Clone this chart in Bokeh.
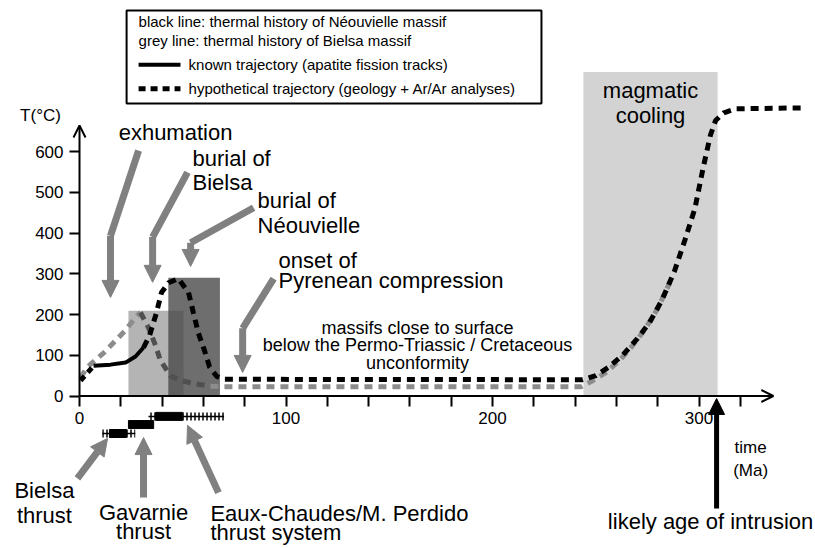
from bokeh.plotting import figure
from bokeh.models import Range1d, LinearAxis, FixedTicker, Arrow, NormalHead, OpenHead
from bokeh.core.properties import value
from bokeh.embed import file_html
from bokeh.resources import INLINE

# ---------------- data ----------------
time_ticks = list(range(0, 340, 20))
time_tick_labels = {0: "0", 100: "100", 200: "200", 300: "300"}
temp_ticks = [0, 100, 200, 300, 400, 500, 600]

# Neouvielle (black)
neo_start_t = [0.5, 6.8]
neo_start_T = [38, 74]
neo_known_t = [6.8, 15, 22.3, 27.1, 31]
neo_known_T = [74, 77, 82, 97, 119]
neo_hyp_t = [31, 33.9, 37.3, 39.7, 43.1, 47.9, 52.8, 55.2, 57.6, 60.5, 63, 66.5, 70,
             243.6, 250, 256, 263, 270, 276, 282, 288, 293, 298, 302, 305.5, 308, 312, 318, 350]
neo_hyp_T = [119, 148, 205, 254, 278, 288, 254, 203, 154, 112, 71, 48, 41,
             40, 50, 70, 100, 140, 180, 235, 305, 380, 460, 560, 640, 676, 695, 705, 707]

# Bielsa (grey)
bie_rise_t = [0.5, 4, 12, 22, 27, 29.5]
bie_rise_T = [45, 72, 107, 160, 192, 205]
bie_fall_t = [29.5, 33.4, 36.8, 39.2, 44, 49, 55.2, 63.4]
bie_fall_T = [205, 168, 124, 87, 50, 38, 31, 24]
bie_flat_t = [63.4, 69.2, 243, 248, 255, 262, 268, 274, 280, 286]
bie_flat_T = [24, 23, 23, 36, 58, 90, 125, 165, 215, 280]

# shaded periods
burial_bielsa = (23.7, 50.4, 209)
burial_neo = (43.0, 68.0, 290)
magmatic = (244.0, 309.0, 795)

# thrust activity (solid = active, hashed = uncertain)
bielsa_solid = (14.5, 22.8); bielsa_hash = [(11, 14.5), (22.8, 27)]
gavarnie_solid = (23.7, 35.9); gavarnie_hash = []
eaux_solid = (36.8, 50); eaux_hash = [(33.4, 36.8), (50, 70)]

FONT = value("Liberation Sans")
GREY = "#808080"

p = figure(width=815, height=548, output_backend="svg", toolbar_location=None,
           x_range=Range1d(-38.26, 356.4), y_range=Range1d(-374.2, 970.6),
           x_axis_location=None, y_axis_location=None, min_border=0)
p.outline_line_color = None
p.grid.visible = False

# axes through origin
xax = LinearAxis(fixed_location=0, ticker=FixedTicker(ticks=time_ticks),
                 major_label_overrides={t: time_tick_labels.get(t, "") for t in time_ticks})
yax = LinearAxis(fixed_location=0, ticker=FixedTicker(ticks=temp_ticks))
for ax in (xax, yax):
    ax.axis_line_color = None
    ax.major_tick_line_width = 2
    ax.major_tick_in = 0
    ax.major_tick_out = 10
    ax.minor_tick_line_color = None
    ax.major_label_text_font = "Liberation Sans"
    ax.major_label_text_font_size = "17px"
    ax.major_label_text_color = "black"
    ax.major_label_standoff = 6
p.add_layout(xax, "below")
p.add_layout(yax, "left")
p.add_layout(Arrow(x_start=0, y_start=0, x_end=336, y_end=0, line_width=2,
                   end=OpenHead(size=12, line_width=2)))
p.add_layout(Arrow(x_start=0, y_start=0, x_end=0, y_end=664, line_width=2,
                   end=OpenHead(size=12, line_width=2)))

# shaded boxes
p.quad(left=[magmatic[0]], right=[magmatic[1]], bottom=[0], top=[magmatic[2]],
       fill_color="#d3d3d3", line_color=None)
p.quad(left=[burial_bielsa[0]], right=[burial_bielsa[1]], bottom=[0], top=[burial_bielsa[2]],
       fill_color="#b4b4b4", line_color=None)
p.quad(left=[burial_neo[0]], right=[burial_neo[1]], bottom=[0], top=[burial_neo[2]],
       fill_color="#4a4a4a", fill_alpha=0.8, line_color=None)

# curves
p.line(bie_rise_t, bie_rise_T, line_color="#8c8c8c", line_width=5, line_dash="8 6")
p.line(bie_fall_t, bie_fall_T, line_color="#505050", line_width=5, line_dash="8 6")
p.line(bie_flat_t, bie_flat_T, line_color="#8c8c8c", line_width=5, line_dash="8 6")
p.line(neo_start_t, neo_start_T, line_color="black", line_width=5, line_dash="6 5")
p.line(neo_known_t, neo_known_T, line_color="black", line_width=4)
p.line(neo_hyp_t, neo_hyp_T, line_color="black", line_width=5, line_dash="8 6")

# thrust bars
def thrust(solid, hashes, y):
    p.rect(x=[(solid[0] + solid[1]) / 2], y=[y], width=[solid[1] - solid[0]], height=8,
           height_units="screen", fill_color="black", line_color="black")
    for a, b in hashes:
        p.rect(x=[(a + b) / 2], y=[y], width=[b - a], height=8, height_units="screen",
               fill_alpha=0, line_color=None, hatch_pattern="|", hatch_color="black",
               hatch_scale=4, hatch_weight=1.5)
        p.line([a, b], [y, y], line_color="black", line_width=1.5)

thrust(bielsa_solid, bielsa_hash, -92)
thrust(gavarnie_solid, gavarnie_hash, -70)
thrust(eaux_solid, eaux_hash, -50)

# annotation arrows
def garrow(xs, ys, color=GREY, w=7, size=17):
    if len(xs) > 2:
        p.line(xs[:-1], ys[:-1], line_color=color, line_width=w, line_join="miter")
    p.add_layout(Arrow(x_start=xs[-2], y_start=ys[-2], x_end=xs[-1], y_end=ys[-1],
                       line_color=color, line_width=w,
                       end=NormalHead(size=size, fill_color=color, line_color=color)))

garrow([28.6, 15.0, 15.0], [602, 393, 242])
garrow([52.3, 35.4, 35.4], [549, 390, 279])
garrow([84.3, 53.8, 53.8], [462, 376, 318])
garrow([94.0, 79.0, 79.0], [288, 166, 58])
garrow([-1.0, 13.6], [-202, -104])
garrow([31.0, 31.0], [-249, -102])
garrow([67.3, 52.3], [-237, -72])
garrow([308.5, 308.5], [-276, -6], color="black", w=5, size=16)

def txt(x, y, s, size="22px", align="left"):
    p.text(x=[x], y=[y], text=[s], text_font=FONT, text_font_size=size,
           text_align=align, text_baseline="middle", text_color="black")

txt(46.5, 647, "exhumation", align="center")
txt(54.7, 583, "burial of"); txt(54.7, 524, "Bielsa")
txt(86.2, 481, "burial of"); txt(86.2, 418, "Néouvielle")
txt(96.4, 332, "onset of"); txt(96.4, 283, "Pyrenean compression")
txt(163.7, 168, "massifs close to surface", size="18px", align="center")
txt(163.7, 124, "below the Permo-Triassic / Cretaceous", size="18px", align="center")
txt(163.7, 80, "unconformity", size="18px", align="center")
txt(276.5, 750, "magmatic", align="center"); txt(276.5, 688, "cooling", align="center")
txt(305.6, -308, "likely age of intrusion", align="center")
txt(325.0, -126, "time", size="17px", align="center"); txt(325.0, -183, "(Ma)", size="17px", align="center")
txt(-18.9, 689, "T(°C)", size="17px", align="center")
txt(-17.0, -232, "Bielsa", align="center"); txt(-17.0, -293, "thrust", align="center")
txt(31.0, -285, "Gavarnie", align="center"); txt(31.0, -332, "thrust", align="center")
txt(63.4, -288, "Eaux-Chaudes/M. Perdido"); txt(63.4, -335, "thrust system")

# legend box
p.quad(left=[22.8], right=[223.7], bottom=[718], top=[946], fill_color="white",
       line_color="black", line_width=2)
txt(28.6, 919, "black line: thermal history of Néouvielle massif", size="15px")
txt(28.6, 872, "grey line: thermal history of Bielsa massif", size="15px")
p.line([28.6, 48.9], [813, 813], line_color="black", line_width=4)
txt(52.8, 813, "known trajectory (apatite fission tracks)", size="15px")
p.line([28.6, 48.9], [754, 754], line_color="black", line_width=5, line_dash="7 5")
txt(52.8, 754, "hypothetical trajectory (geology + Ar/Ar analyses)", size="15px")

open("out.html", "w").write(file_html(p, INLINE))
